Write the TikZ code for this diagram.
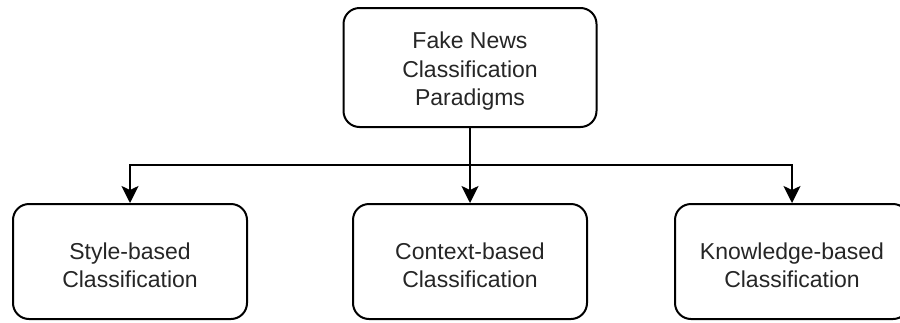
\documentclass[tikz,border=0pt]{standalone}
\usepackage{fontspec}
\setmainfont{Liberation Sans}
\usetikzlibrary{arrows.meta}
\begin{document}
\begin{tikzpicture}[x=1pt,y=1pt,
  box/.style={draw=black, line width=2pt, rounded corners=16pt, fill=white, inner sep=0pt},
  txt/.style={align=center, inner sep=0pt, text=black!85, yshift=-4pt,
    font=\fontsize{23}{28.5}\selectfont},
  conn/.style={draw=black, line width=2pt, -{Stealth[length=17pt,width=17pt,inset=4pt]}}
]
\useasboundingbox (0,0) rectangle (900,-322);
\node[box, minimum width=253pt, minimum height=119pt,
  label={[txt]center:Fake News\\Classification\\Paradigms}] (root) at (470,-67.5) {};
\node[box, minimum width=234pt, minimum height=115pt,
  label={[txt]center:Style-based\\Classification}] (style) at (130,-261.5) {};
\node[box, minimum width=234pt, minimum height=115pt,
  label={[txt]center:Context-based\\Classification}] (context) at (470,-261.5) {};
\node[box, minimum width=234pt, minimum height=115pt,
  label={[txt]center:Knowledge-based\\Classification}] (know) at (792,-261.5) {};
\coordinate (split) at (470,-165);
\draw[conn] (root.south) -- (context.north);
\draw[conn] (split) -| (style.north);
\draw[conn] (split) -| (know.north);
\end{tikzpicture}
\end{document}
